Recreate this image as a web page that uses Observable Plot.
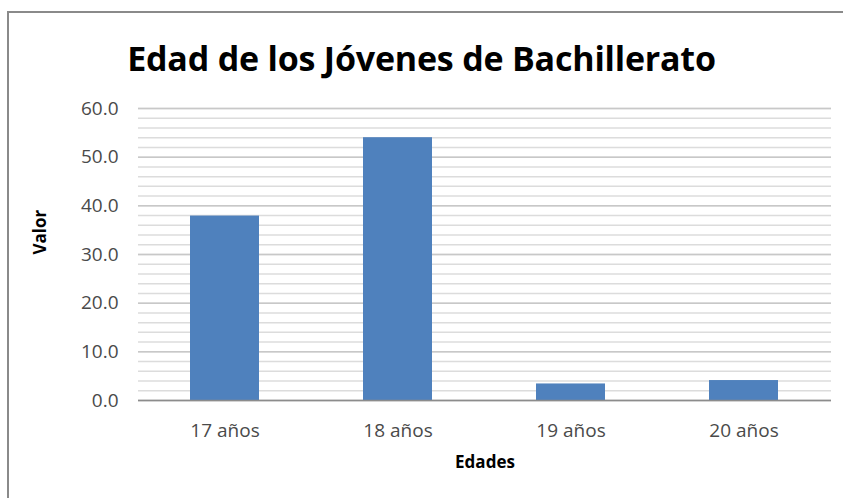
<!DOCTYPE html>
<html>
<head>
<meta charset="utf-8">
<script src="https://cdn.jsdelivr.net/npm/d3@7"></script>
<script src="https://cdn.jsdelivr.net/npm/@observablehq/plot@0.6"></script>
<style>
  html, body { margin: 0; padding: 0; background: #fff; }
  #wrap { position: relative; width: 843px; height: 498px; overflow: hidden; background: #fff; }
  #frame { position: absolute; left: 7px; top: 11px; width: 900px; height: 600px; border-left: 2px solid #8a8a8a; border-top: 2px solid #8a8a8a; }
  #title { position: absolute; left: 0; top: 34px; width: 843px; text-align: center; font-family: "Open Sans", sans-serif; font-weight: 700; font-size: 34px; color: #000; letter-spacing: -0.2px; line-height: 48px; }
  #chart { position: absolute; left: 0; top: 80px; }
</style>
</head>
<body>
<div id="wrap">
  <div id="frame"></div>
  <div id="title">Edad de los Jóvenes de Bachillerato</div>
  <div id="chart"></div>
</div>
<script>
const categories = ["17 años", "18 años", "19 años", "20 años"];
const values = [37.9, 54.0, 3.4, 4.1];
const yTicks = [0, 10, 20, 30, 40, 50, 60];
const minorStep = 2;
const xTitle = "Edades";
const yTitle = "Valor";

const data = categories.map((c, i) => ({ edad: c, valor: values[i] }));
const minorTicks = d3.range(0, 60 + 1e-9, minorStep);

const chart = Plot.plot({
  width: 843,
  height: 418,
  marginTop: 28,
  marginBottom: 98,
  marginLeft: 138,
  marginRight: 12,
  style: { fontFamily: "Open Sans, sans-serif", fontSize: "19px", color: "#4a4a4a", background: "transparent" },
  x: { domain: categories, paddingInner: 0.6, paddingOuter: 0.3 },
  y: { domain: [0, 60] },
  marks: [
    Plot.ruleY(minorTicks, { stroke: "#dcdcdc", strokeWidth: 1.5 }),
    Plot.ruleY(yTicks, { stroke: "#c8c8c8", strokeWidth: 1.5 }),
    Plot.barY(data, { x: "edad", y: "valor", fill: "#4f81bd" }),
    Plot.ruleY([0], { stroke: "#8c8c8c", strokeWidth: 1.5 }),
    Plot.ruleX([0], { x: () => 0, stroke: "#8c8c8c", strokeWidth: 1.5, frameAnchor: "left" }),
    Plot.axisY({ ticks: yTicks, tickFormat: d3.format(".1f"), tickSize: 0, tickPadding: 20, label: null, fill: "#4a4a4a" }),
    Plot.axisX({ tickSize: 0, tickPadding: 23, label: null, fill: "#4a4a4a" }),
    Plot.text([xTitle], { frameAnchor: "bottom", text: d => d, dy: 67, fontWeight: "bold", fontSize: 17, fill: "#000" }),
    Plot.text([yTitle], { frameAnchor: "left", text: d => d, dx: -98, rotate: -90, fontWeight: "bold", fontSize: 17, fill: "#000" })
  ]
});
document.getElementById("chart").appendChild(chart);
</script>
</body>
</html>
